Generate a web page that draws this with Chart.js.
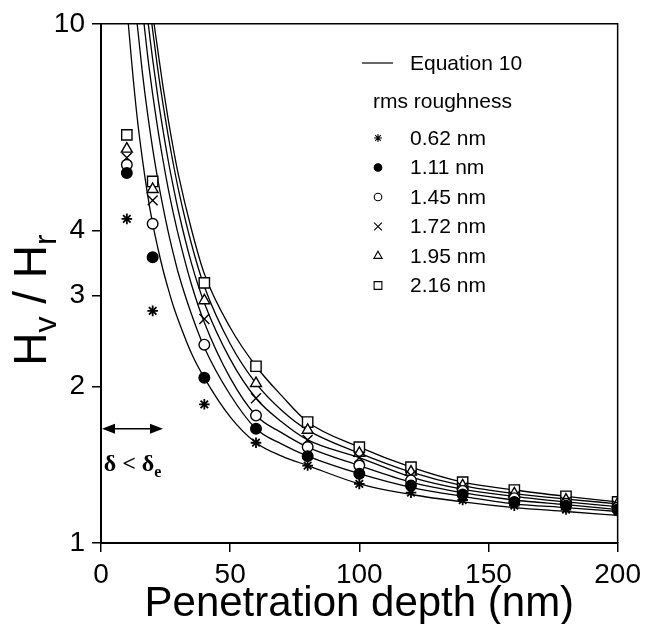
<!DOCTYPE html>
<html>
<head>
<meta charset="utf-8">
<script src="https://cdn.jsdelivr.net/npm/chart.js@4"></script>
<style>
  html, body { margin: 0; padding: 0; background: #fff; }
  #wrap { width: 647px; height: 624px; }
</style>
</head>
<body>
<div id="wrap"><canvas id="grafico"></canvas></div>
<script>
// penetration depth (nm) of the measured points
const depth = [10, 20, 40, 60, 80, 100, 120, 140, 160, 180, 200];

// measured Hv/Hr, one array per rms roughness
const rms062 = [4.21, 2.80, 1.85, 1.56, 1.41, 1.30, 1.25, 1.21, 1.18, 1.16, 1.15];
const rms111 = [5.16, 3.55, 2.08, 1.66, 1.47, 1.36, 1.29, 1.24, 1.20, 1.18, 1.16];
const rms145 = [5.35, 4.12, 2.41, 1.76, 1.53, 1.41, 1.32, 1.26, 1.22, 1.19, 1.17];
const rms172 = [5.52, 4.57, 2.70, 1.90, 1.58, 1.46, 1.35, 1.28, 1.23, 1.20, 1.18];
const rms195 = [5.74, 4.80, 2.93, 2.03, 1.65, 1.49, 1.37, 1.29, 1.245, 1.21, 1.19];
const rms216 = [6.11, 4.97, 3.17, 2.19, 1.71, 1.53, 1.40, 1.31, 1.265, 1.23, 1.20];

// Equation 10 curves (null = off the top of the plot)
const fitDepth = [10, 12, 14, 16, 18, 20, 22, 24, 26, 28, 30, 35, 40, 50, 60, 70, 80, 100, 120, 140, 160, 180, 200];
const fit062 = [10.8, 8.3, 6.6, 5.5, 4.7, 4.12, 3.70, 3.36, 3.09, 2.86, 2.68, 2.32, 2.08, 1.75, 1.56, 1.47, 1.41, 1.30, 1.24, 1.20, 1.17, 1.15, 1.13];
const fit111 = [null, 12.8, 10.0, 8.07, 6.73, 5.75, 5.01, 4.44, 3.98, 3.61, 3.30, 2.76, 2.38, 1.93, 1.66, 1.55, 1.47, 1.36, 1.28, 1.23, 1.19, 1.17, 1.15];
const fit145 = [null, null, 13.4, 10.7, 8.72, 7.32, 6.27, 5.46, 4.82, 4.32, 3.91, 3.15, 2.66, 2.08, 1.76, 1.63, 1.53, 1.41, 1.31, 1.25, 1.21, 1.185, 1.16];
const fit172 = [null, null, null, 12.8, 10.3, 8.54, 7.23, 6.24, 5.46, 4.85, 4.35, 3.46, 2.90, 2.26, 1.90, 1.71, 1.58, 1.46, 1.34, 1.27, 1.23, 1.20, 1.175];
const fit195 = [null, null, null, null, 11.8, 9.71, 8.16, 7.00, 6.09, 5.37, 4.79, 3.77, 3.12, 2.42, 2.03, 1.80, 1.65, 1.49, 1.37, 1.29, 1.245, 1.215, 1.19];
const fit216 = [null, null, null, null, 13.0, 10.5, 8.89, 7.57, 6.55, 5.75, 5.11, 4.02, 3.30, 2.60, 2.19, 1.92, 1.71, 1.53, 1.40, 1.31, 1.265, 1.23, 1.20];

// axis ticks
const xTicks = [0, 50, 100, 150, 200];
const yTicks = [1, 2, 3, 4, 10];

const labels = ['0.62 nm', '1.11 nm', '1.45 nm', '1.72 nm', '1.95 nm', '2.16 nm'];
const marcas = ['star', 'circle', 'circle', 'crossRot', 'triangle', 'rect'];
const rellenos = ['#000', '#000', '#fff', '#fff', '#fff', '#fff'];
const medidas = [rms062, rms111, rms145, rms172, rms195, rms216];
const curvas = [fit062, fit111, fit145, fit172, fit195, fit216];

// tamanos de marcador: en el grafico y en la leyenda
const radioGrafico = { star: 5.3, circle: 5.3, crossRot: 7, triangle: 6.3, rect: 7.3 };
const radioLeyenda = { star: 4, circle: 3.8, crossRot: 5.5, triangle: 4.8, rect: 5.5 };

// delta < delta_e arrow (data units)
const flecha = { desde: 0, hasta: 24, nivel: 1.66 };

const FUENTE = "'Liberation Sans', Arial, Helvetica, sans-serif";

const datasets = [];
medidas.forEach((serie, i) => {
    datasets.push({
        label: labels[i],
        data: depth.map((x, j) => ({ x: x, y: serie[j] })),
        showLine: false,
        pointStyle: marcas[i],
        pointRadius: radioGrafico[marcas[i]],
        pointBorderWidth: marcas[i] === 'star' ? 1.8 : 1.4,
        pointBorderColor: '#000',
        pointBackgroundColor: rellenos[i],
        order: 0
    });
});
curvas.forEach((serie, i) => {
    datasets.push({
        label: 'Equation 10 ' + labels[i],
        data: fitDepth.map((x, j) => ({ x: x, y: serie[j] })),
        showLine: true,
        pointRadius: 0,
        borderColor: '#000',
        borderWidth: 1.3,
        cubicInterpolationMode: 'monotone',
        order: 1
    });
});

// marco, titulo Y, leyenda y flecha
const extras = {
    id: 'extras',
    afterDraw(chart) {
        const { ctx, chartArea: ca, scales } = chart;
        ctx.save();
        // marco superior y derecho
        ctx.strokeStyle = '#000';
        ctx.lineWidth = 1.5;
        ctx.beginPath();
        ctx.moveTo(ca.left, ca.top);
        ctx.lineTo(ca.right, ca.top);
        ctx.lineTo(ca.right, ca.bottom);
        ctx.stroke();

        // titulo eje Y: Hv / Hr
        ctx.save();
        ctx.translate(30, 300);
        ctx.rotate(-Math.PI / 2);
        const piezas = [
            { t: 'H', s: 46, dy: 0 },
            { t: 'v', s: 32, dy: 10 },
            { t: ' / ', s: 46, dy: 0 },
            { t: 'H', s: 46, dy: 0 },
            { t: 'r', s: 32, dy: 10 }
        ];
        let ancho = 0;
        piezas.forEach(p => { ctx.font = p.s + 'px ' + FUENTE; p.w = ctx.measureText(p.t).width; ancho += p.w; });
        let px = -ancho / 2;
        ctx.fillStyle = '#000';
        ctx.textBaseline = 'alphabetic';
        piezas.forEach(p => {
            ctx.font = p.s + 'px ' + FUENTE;
            ctx.fillText(p.t, px, 16 + p.dy);
            px += p.w;
        });
        ctx.restore();

        // leyenda
        ctx.fillStyle = '#000';
        ctx.font = '21px ' + FUENTE;
        ctx.textBaseline = 'middle';
        ctx.textAlign = 'left';
        ctx.lineWidth = 1.2;
        ctx.beginPath();
        ctx.moveTo(362, 63);
        ctx.lineTo(393, 63);
        ctx.stroke();
        ctx.fillText('Equation 10', 410, 64);
        ctx.fillText('rms roughness', 373, 102);
        labels.forEach((lab, i) => {
            const y = 138 + i * 29.5;
            ctx.fillStyle = rellenos[i];
            ctx.strokeStyle = '#000';
            ctx.lineWidth = 1.1;
            Chart.helpers.drawPoint(ctx, { pointStyle: marcas[i], radius: radioLeyenda[marcas[i]], rotation: 0, borderWidth: 1.1 }, 378, y);
            ctx.fillStyle = '#000';
            ctx.fillText(lab, 410, y + 1);
        });

        // flecha delta < delta_e
        const xa = scales.x.getPixelForValue(flecha.desde);
        const xb = scales.x.getPixelForValue(flecha.hasta);
        const yf = scales.y.getPixelForValue(flecha.nivel);
        ctx.strokeStyle = '#000';
        ctx.lineWidth = 1.5;
        ctx.beginPath();
        ctx.moveTo(xa + 10, yf);
        ctx.lineTo(xb - 10, yf);
        ctx.stroke();
        ctx.beginPath();
        ctx.moveTo(xa + 1, yf); ctx.lineTo(xa + 14, yf - 5); ctx.lineTo(xa + 14, yf + 5); ctx.closePath();
        ctx.moveTo(xb, yf); ctx.lineTo(xb - 13, yf - 5); ctx.lineTo(xb - 13, yf + 5); ctx.closePath();
        ctx.fill();

        ctx.font = "bold 24px 'Liberation Serif', 'DejaVu Serif', serif";
        ctx.textBaseline = 'alphabetic';
        const txt = '\u03B4 < \u03B4';
        const wt = ctx.measureText(txt).width;
        const x0 = 134 - (wt + 10) / 2;
        ctx.fillText(txt, x0, 471);
        ctx.font = "bold 16px 'Liberation Serif', 'DejaVu Serif', serif";
        ctx.fillText('e', x0 + wt, 477);
        ctx.restore();
    }
};

new Chart(document.getElementById('grafico'), {
    type: 'scatter',
    data: { datasets: datasets },
    options: {
        responsive: true,
        maintainAspectRatio: false,
        animation: false,
        layout: { padding: { top: 23, right: 25, left: 0, bottom: 0 } },
        plugins: {
            legend: { display: false },
            tooltip: { enabled: false }
        },
        scales: {
            x: {
                type: 'linear',
                min: 0,
                max: 200,
                afterBuildTicks: s => { s.ticks = xTicks.map(v => ({ value: v })); },
                afterFit: s => { s.height = 81; },
                ticks: { color: '#000', font: { family: FUENTE, size: 28 }, padding: 6, maxRotation: 0 },
                grid: { drawOnChartArea: false, tickLength: 9, color: '#000', lineWidth: 1.5 },
                border: { color: '#000', width: 2 },
                title: {
                    display: true,
                    text: 'Penetration depth (nm)',
                    color: '#000',
                    font: { family: FUENTE, size: 42, lineHeight: 0.95 },
                    padding: { top: 0, bottom: 0 }
                }
            },
            y: {
                type: 'logarithmic',
                min: 1,
                max: 10,
                afterBuildTicks: s => { s.ticks = yTicks.map(v => ({ value: v })); },
                afterFit: s => { s.width = 101; },
                ticks: { color: '#000', font: { family: FUENTE, size: 28 }, padding: 7, callback: v => String(v) },
                grid: { drawOnChartArea: false, tickLength: 9, color: '#000', lineWidth: 1.5 },
                border: { color: '#000', width: 2 }
            }
        }
    },
    plugins: [extras]
});
</script>
</body>
</html>
